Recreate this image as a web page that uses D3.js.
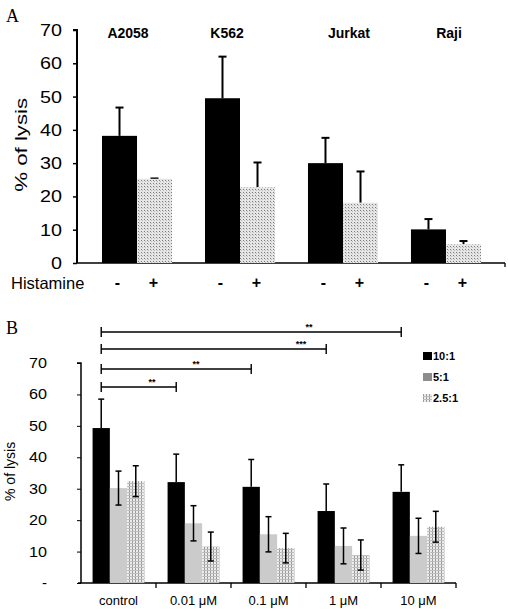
<!DOCTYPE html>
<html><head><meta charset="utf-8">
<script src="https://cdn.jsdelivr.net/npm/d3@7"></script>
<style>body{margin:0;background:#fff}svg{display:block}text{font-family:Arial,"Liberation Sans",sans-serif}</style>
</head><body>
<svg id="c" width="508" height="611"></svg>
<script>
// Panel A data
const cellLines = ["A2058","K562","Jurkat","Raji"];
const aCtrl = [38.2, 49.5, 30.0, 10.1];
const aCtrlErr = [8.5, 12.5, 7.6, 3.1];
const aHist = [25.3, 22.8, 18.1, 5.7];
const aHistErr = [0.1, 7.4, 9.4, 0.9];
const aTicks = [0,10,20,30,40,50,60,70];

// Panel B data
const conc = ["control","0.01 μM","0.1 μM","1 μM","10 μM"];
const ratios = ["10:1","5:1","2.5:1"];
const b10 = [49.3, 32.1, 30.6, 22.9, 29.0];
const b10Err = [9.2, 8.9, 8.7, 8.6, 8.6];
const b5 = [30.2, 19.0, 15.5, 11.8, 15.0];
const b5Err = [5.4, 5.6, 5.6, 5.7, 5.6];
const b25 = [32.4, 11.6, 11.1, 8.9, 17.9];
const b25Err = [4.9, 4.6, 4.7, 4.8, 4.9];
const bTicks = [0,10,20,30,40,50,60,70];
const sigTo = ["0.01 μM","0.1 μM","1 μM","10 μM"];
const sigLabel = ["**","**","***","**"];

const svg = d3.select("#c");
const defs = svg.append("defs");
const pA = defs.append("pattern").attr("id","dotA").attr("width",3).attr("height",3).attr("patternUnits","userSpaceOnUse");
pA.append("rect").attr("width",3).attr("height",3).attr("fill","#e6e6e6");
pA.append("rect").attr("width",1).attr("height",1).attr("fill","#7a7a7a");
pA.append("rect").attr("x",1).attr("y",1).attr("width",1).attr("height",1).attr("fill","#bbb");
const pB = defs.append("pattern").attr("id","dotB").attr("width",3).attr("height",3).attr("patternUnits","userSpaceOnUse");
pB.append("rect").attr("width",3).attr("height",3).attr("fill","#ececec");
pB.append("rect").attr("width",1).attr("height",3).attr("fill","#9a9a9a");
pB.append("rect").attr("width",3).attr("height",1).attr("fill","#bdbdbd");

const serif = "'Liberation Serif','Times New Roman',serif";

// ---------------- Panel A ----------------
svg.append("text").attr("x",6).attr("y",22).style("font-family",serif).attr("font-size",18).text("A");

const yA = d3.scaleLinear().domain([0,70]).range([263,30]);
const xA = d3.scaleBand().domain(cellLines).range([102,481]).paddingInner(0.32).paddingOuter(0);
const xAsub = d3.scaleBand().domain(["-","+"]).range([0,xA.bandwidth()]);
const labelOffA = [-9,-13,6,3];

const gA = svg.append("g");
const axA = gA.append("g").attr("transform","translate(77,0)")
  .call(d3.axisLeft(yA).tickValues(aTicks).tickSize(4).tickPadding(11));
axA.select(".domain").attr("stroke","#000").attr("stroke-width",2).attr("d",`M-4,${yA(70)}H0V${yA(0)}`);
axA.selectAll(".tick line").attr("stroke-width",1.5);
axA.selectAll(".tick text").attr("font-size",17).attr("fill","#000")
  .attr("textLength",d=>d===0?11:22).attr("lengthAdjust","spacingAndGlyphs");
gA.append("line").attr("x1",77).attr("x2",505).attr("y1",yA(0)).attr("y2",yA(0)).attr("stroke","#000").attr("stroke-width",1.3);
gA.append("line").attr("x1",505).attr("x2",505).attr("y1",yA(0)).attr("y2",yA(0)+4).attr("stroke","#000").attr("stroke-width",1.3);

cellLines.forEach((c,i)=>{
  const x0 = xA(c);
  const bw = xAsub.bandwidth();
  const vals = [[aCtrl[i],aCtrlErr[i],"#000","-"],[aHist[i],aHistErr[i],"url(#dotA)","+"]];
  vals.forEach(([v,e,fill,k])=>{
    const x = x0 + xAsub(k);
    const cx = x + bw/2;
    gA.append("line").attr("x1",cx).attr("x2",cx).attr("y1",yA(v)).attr("y2",yA(v+e)).attr("stroke","#000").attr("stroke-width",2);
    gA.append("line").attr("x1",cx-4).attr("x2",cx+4).attr("y1",yA(v+e)).attr("y2",yA(v+e)).attr("stroke","#000").attr("stroke-width",2);
    gA.append("rect").attr("x",x).attr("width",bw).attr("y",yA(v)).attr("height",yA(0)-yA(v)).attr("fill",fill);
    gA.append("text").attr("x",cx-(k==="-"?2:1)).attr("y",288).attr("text-anchor","middle").attr("font-size",16).attr("font-weight","bold").text(k);
  });
  gA.append("text").attr("x",x0+xA.bandwidth()/2+labelOffA[i]).attr("y",38).attr("text-anchor","middle").attr("font-size",14).attr("font-weight","bold").text(c);
});
gA.append("text").attr("x",11).attr("y",289).attr("font-size",16.5).text("Histamine");
gA.append("text").attr("transform",`translate(27,${yA(35.5)}) rotate(-90)`).attr("text-anchor","middle")
  .attr("font-size",17).attr("textLength",94).attr("lengthAdjust","spacingAndGlyphs").text("% of lysis");

// ---------------- Panel B ----------------
svg.append("text").attr("x",6).attr("y",334).style("font-family",serif).attr("font-size",18).text("B");

const yB = d3.scaleLinear().domain([0,70]).range([583,363]);
const xB = d3.scaleBand().domain(conc).range([81,456]);
const xBsub = d3.scaleBand().domain(ratios).range([0,xB.bandwidth()]).paddingOuter(0.67);
const gB = svg.append("g");
const axB = gB.append("g").attr("transform","translate(81,0)")
  .call(d3.axisLeft(yB).tickValues(bTicks).tickSize(4).tickPadding(30).tickFormat(d=>d===0?"-":d));
axB.select(".domain").attr("stroke","#000").attr("stroke-width",1.5).attr("d",`M-4,${yB(70)}H0V${yB(0)}`);
axB.selectAll(".tick text").attr("font-size",14).attr("fill","#000")
  .attr("textLength",d=>d===0?5:18).attr("lengthAdjust","spacingAndGlyphs");

const axBx = gB.append("g").attr("transform",`translate(0,${yB(0)})`)
  .call(d3.axisBottom(xB).tickSize(0).tickPadding(13));
axBx.select(".domain").attr("stroke","#000").attr("stroke-width",1.3).attr("d",`M78,0H456`);
axBx.selectAll(".tick text").attr("font-size",13).attr("fill","#000");
conc.forEach(c=>{
  const xe = xB(c)+xB.bandwidth();
  gB.append("line").attr("x1",xe).attr("x2",xe).attr("y1",yB(0)).attr("y2",yB(0)+5).attr("stroke","#000").attr("stroke-width",1.3);
});

const fills = ["#000","#cbcbcb","url(#dotB)"];
const series = [[b10,b10Err],[b5,b5Err],[b25,b25Err]];
conc.forEach((c,i)=>{
  ratios.forEach((r,j)=>{
    const [vals,errs] = series[j];
    const v = vals[i], e = errs[i];
    const x = xB(c)+xBsub(r), bw = xBsub.bandwidth(), cx = x+bw/2;
    gB.append("rect").attr("x",x).attr("width",bw).attr("y",yB(v)).attr("height",yB(0)-yB(v)).attr("fill",fills[j]);
    const lo = j===0 ? v : v-e;
    gB.append("line").attr("x1",cx).attr("x2",cx).attr("y1",yB(lo)).attr("y2",yB(v+e)).attr("stroke","#000").attr("stroke-width",1.5);
    gB.append("line").attr("x1",cx-3).attr("x2",cx+3).attr("y1",yB(v+e)).attr("y2",yB(v+e)).attr("stroke","#000").attr("stroke-width",1.5);
    if(j>0) gB.append("line").attr("x1",cx-3).attr("x2",cx+3).attr("y1",yB(lo)).attr("y2",yB(lo)).attr("stroke","#000").attr("stroke-width",1.5);
  });
});

// significance brackets
const bracketY = [387, 369, 349, 332];
const x0s = xB("control")+xBsub("10:1")+xBsub.bandwidth()/2;
const labelX = [152, 196, 301, 309];
sigTo.forEach((t,k)=>{
  const x1 = xB(t)+xBsub("10:1")+xBsub.bandwidth()/2;
  const y = bracketY[k];
  gB.append("line").attr("x1",x0s).attr("x2",x1).attr("y1",y).attr("y2",y).attr("stroke","#000").attr("stroke-width",1.4);
  [x0s,x1].forEach(xx=>gB.append("line").attr("x1",xx).attr("x2",xx).attr("y1",y-5).attr("y2",y+5).attr("stroke","#000").attr("stroke-width",1.4));
  gB.append("text").attr("x",labelX[k]).attr("y",y-2).attr("text-anchor","middle").attr("font-size",9).attr("font-weight","bold").text(sigLabel[k]);
});

// legend
const legFill = ["#000","#8c8c8c","url(#dotB)"];
ratios.forEach((r,j)=>{
  const y = 356 + j*21;
  gB.append("rect").attr("x",423).attr("y",y-4).attr("width",9).attr("height",8).attr("fill",legFill[j]);
  gB.append("text").attr("x",433).attr("y",y+4).attr("font-size",11).attr("font-weight","bold").text(r);
});

gB.append("text").attr("transform",`translate(15,${yB(35.5)}) rotate(-90)`).attr("text-anchor","middle").attr("font-size",14).text("% of lysis");
</script>
</body></html>
